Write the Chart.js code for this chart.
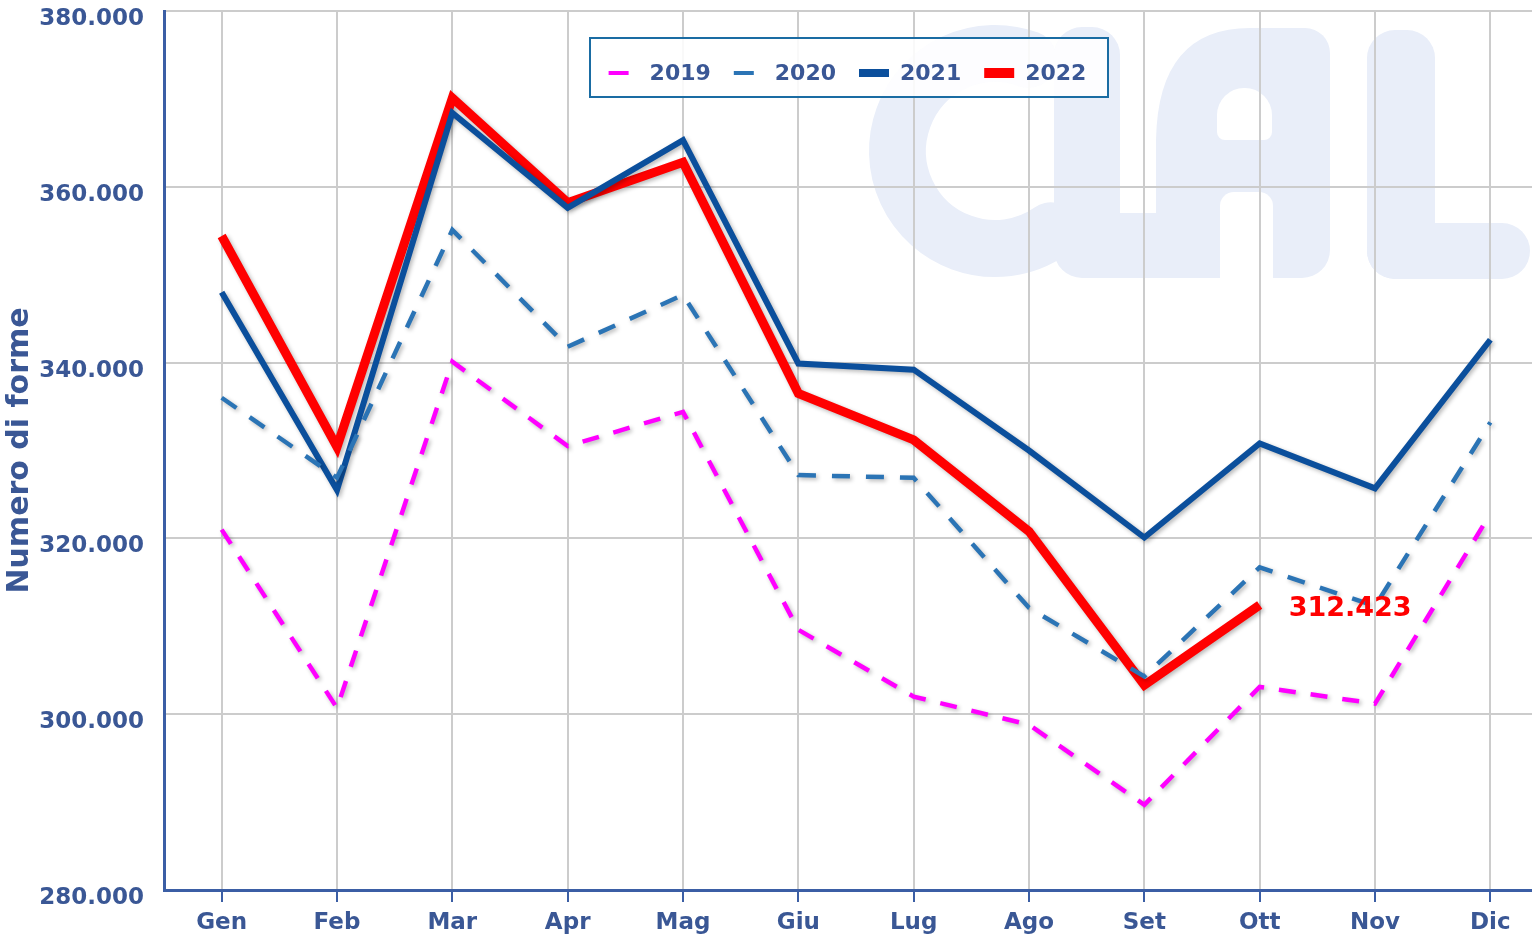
<!DOCTYPE html>
<html>
<head>
<meta charset="utf-8">
<script src="https://cdn.jsdelivr.net/npm/chart.js@4.4.1/dist/chart.umd.min.js"></script>
<style>
  html, body { margin: 0; padding: 0; background: #ffffff; overflow: hidden; }
  #wrap { width: 1550px; height: 935px; }
</style>
</head>
<body>
<div id="wrap"><canvas id="c" width="1550" height="935"></canvas></div>
<script>
// ---- data ----
const months = ['Gen','Feb','Mar','Apr','Mag','Giu','Lug','Ago','Set','Ott','Nov','Dic'];
const seriesNames = ['2019','2020','2021','2022'];
const v2019 = [321000, 300700, 340100, 330500, 334400, 309600, 302000, 298800, 289700, 303100, 301200, 322800];
const v2020 = [336000, 326900, 355100, 341800, 347700, 327200, 326900, 312100, 304300, 316700, 312300, 333200];
const v2021 = [348000, 325500, 368400, 357600, 365300, 339900, 339200, 330000, 320100, 330800, 325700, 342600];
const v2022 = [354400, 330400, 370100, 358200, 362800, 336500, 331200, 320800, 303300, 312423, null, null];
const yTicks = [280000, 300000, 320000, 340000, 360000, 380000];
const yTitle = 'Numero di forme';

const TXT = '#3a5795';
const FONT = '"DejaVu Sans", Verdana, sans-serif';
function fmt(n) { return String(Math.round(n)).replace(/\B(?=(\d{3})+(?!\d))/g, '.'); }

function rr(ctx, x, y, w, h, r) {
  if (!Array.isArray(r)) r = [r, r, r, r];
  const [tl, tr, br, bl] = r;
  ctx.moveTo(x + tl, y);
  ctx.lineTo(x + w - tr, y);
  if (tr) ctx.arcTo(x + w, y, x + w, y + tr, tr); else ctx.lineTo(x + w, y);
  ctx.lineTo(x + w, y + h - br);
  if (br) ctx.arcTo(x + w, y + h, x + w - br, y + h, br); else ctx.lineTo(x + w, y + h);
  ctx.lineTo(x + bl, y + h);
  if (bl) ctx.arcTo(x, y + h, x, y + h - bl, bl); else ctx.lineTo(x, y + h);
  ctx.lineTo(x, y + tl);
  if (tl) ctx.arcTo(x, y, x + tl, y, tl); else ctx.lineTo(x, y);
  ctx.closePath();
}

// watermark logo (decoration, behind grid)
const watermark = {
  id: 'watermark',
  beforeDraw(chart) {
    const ctx = chart.ctx;
    ctx.save();
    const col = '#e9eef9';
    // C
    ctx.strokeStyle = col; ctx.lineWidth = 57; ctx.lineCap = 'round';
    ctx.beginPath();
    ctx.arc(995, 151, 97.5, -70 * Math.PI / 180, 55 * Math.PI / 180, true);
    ctx.stroke();
    ctx.fillStyle = col;
    // L1
    ctx.beginPath(); rr(ctx, 1054, 27, 66, 251, [28, 28, 0, 28]); ctx.fill();
    ctx.beginPath(); ctx.rect(1100, 213, 80, 65); ctx.fill();
    // A outer
    ctx.beginPath();
    ctx.moveTo(1156, 278);
    ctx.lineTo(1156, 140);
    ctx.quadraticCurveTo(1158, 28, 1250, 28);
    ctx.lineTo(1305, 28);
    ctx.arcTo(1330, 28, 1330, 55, 25);
    ctx.lineTo(1330, 250);
    ctx.arcTo(1330, 278, 1302, 278, 28);
    ctx.closePath();
    ctx.fill();
    // A counter and gap
    ctx.fillStyle = '#ffffff';
    ctx.beginPath(); rr(ctx, 1217, 88, 55, 52, [27, 27, 8, 8]); ctx.fill();
    ctx.beginPath(); rr(ctx, 1220, 192, 53, 90, [14, 14, 0, 0]); ctx.fill();
    ctx.fillStyle = col;
    // L2
    ctx.beginPath(); rr(ctx, 1367, 30, 68, 249, 28); ctx.fill();
    ctx.beginPath(); rr(ctx, 1367, 223, 163, 56, 28); ctx.fill();
    ctx.restore();
  }
};

const shadow = {
  id: 'shadow',
  beforeDatasetsDraw(chart) {
    const ctx = chart.ctx;
    ctx.save();
    ctx.shadowColor = 'rgba(0,0,0,0.28)';
    ctx.shadowBlur = 4;
    ctx.shadowOffsetX = 2;
    ctx.shadowOffsetY = 2;
  },
  afterDatasetsDraw(chart) {
    chart.ctx.restore();
  }
};

const lastLabel = {
  id: 'lastLabel',
  afterDatasetsDraw(chart) {
    const dsIndex = chart.data.datasets.length - 1;
    const ds = chart.data.datasets[dsIndex];
    const meta = chart.getDatasetMeta(dsIndex);
    let i = ds.data.length - 1;
    while (i >= 0 && ds.data[i] == null) i--;
    if (i < 0) return;
    const p = meta.data[i];
    const ctx = chart.ctx;
    ctx.save();
    ctx.font = 'bold 27px ' + FONT;
    ctx.fillStyle = '#ff0000';
    ctx.textAlign = 'left';
    ctx.textBaseline = 'middle';
    ctx.fillText(fmt(ds.data[i]), p.x + 29, p.y + 4);
    ctx.restore();
  }
};

const boxLegend = {
  id: 'boxLegend',
  afterDraw(chart) {
    const ctx = chart.ctx;
    const a = chart.chartArea;
    const bx = a.left + 426, by = a.top + 27, bw = 518, bh = 59;
    ctx.save();
    ctx.fillStyle = 'rgba(255,255,255,0.88)';
    ctx.fillRect(bx, by, bw, bh);
    ctx.strokeStyle = '#1a6ca3';
    ctx.lineWidth = 2;
    ctx.strokeRect(bx, by, bw, bh);
    const cy = by + 36;
    chart.data.datasets.forEach((ds, k) => {
      const sx = bx + 18.6 + k * 125.2;
      const solid = !ds.borderDash || ds.borderDash.length === 0;
      const sw = solid ? 30 : 20;
      const th = solid ? (ds.borderWidth >= 8 ? 10 : 8) : 4;
      ctx.fillStyle = ds.borderColor;
      ctx.fillRect(sx, cy - th / 2 - 1, sw, th);
      ctx.fillStyle = TXT;
      ctx.font = 'bold 22px ' + FONT;
      ctx.textAlign = 'left';
      ctx.textBaseline = 'middle';
      ctx.fillText(ds.label, sx + 41, cy);
    });
    ctx.restore();
  }
};

const ctx = document.getElementById('c').getContext('2d');
new Chart(ctx, {
  type: 'line',
  data: {
    labels: months,
    datasets: [
      { label: seriesNames[0], data: v2019, borderColor: '#ff00ff', backgroundColor: '#ff00ff', borderWidth: 4.5, borderDash: [17, 15] },
      { label: seriesNames[1], data: v2020, borderColor: '#2b74b5', backgroundColor: '#2b74b5', borderWidth: 4.5, borderDash: [18, 16] },
      { label: seriesNames[2], data: v2021, borderColor: '#0b4f9c', backgroundColor: '#0b4f9c', borderWidth: 6, borderDash: [] },
      { label: seriesNames[3], data: v2022, borderColor: '#ff0000', backgroundColor: '#ff0000', borderWidth: 9, borderDash: [] }
    ]
  },
  options: {
    responsive: false,
    animation: false,
    devicePixelRatio: 1,
    layout: { padding: { top: 11, right: 2, left: 0, bottom: 0 } },
    elements: {
      point: { radius: 0, hoverRadius: 0 },
      line: { tension: 0, borderJoinStyle: 'miter', borderCapStyle: 'butt', fill: false }
    },
    plugins: {
      legend: { display: false },
      tooltip: { enabled: false }
    },
    scales: {
      x: {
        type: 'category',
        offset: true,
        grid: { color: '#cccccc', lineWidth: 2, drawTicks: true, tickLength: 12, tickColor: '#3b5ea5', tickWidth: 2 },
        border: { color: '#3b5ea5', width: 3 },
        ticks: { color: TXT, font: { family: FONT, size: 23, weight: 'bold', lineHeight: 1.2 }, padding: 7, maxRotation: 0, autoSkip: false },
        afterFit(scale) { scale.height = 45; scale.paddingLeft = 0; scale.paddingRight = 0; }
      },
      y: {
        min: yTicks[0],
        max: yTicks[yTicks.length - 1],
        afterBuildTicks(scale) { scale.ticks = yTicks.map(v => ({ value: v })); },
        grid: { color: '#cccccc', lineWidth: 2, drawTicks: false },
        border: { color: '#3b5ea5', width: 3 },
        ticks: {
          color: TXT, font: { family: FONT, size: 23, weight: 'bold', lineHeight: 1 },
          padding: 20, labelOffset: 8,
          callback: (v) => fmt(v)
        },
        title: { display: true, text: yTitle, color: TXT, font: { family: FONT, size: 30, weight: 'bold', lineHeight: 1.2 }, padding: { top: 2, bottom: 0 } },
        afterFit(scale) { scale.width = 164; scale.paddingTop = 0; scale.paddingBottom = 0; }
      }
    }
  },
  plugins: [watermark, shadow, lastLabel, boxLegend]
});
</script>
</body>
</html>
